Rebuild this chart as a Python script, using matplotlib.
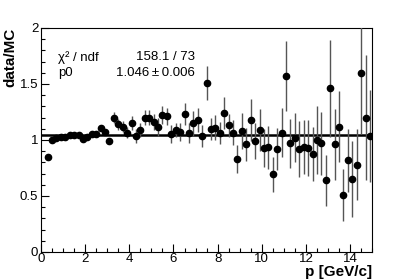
import matplotlib
matplotlib.use('Agg')
import matplotlib.pyplot as plt
from matplotlib.ticker import MultipleLocator, FuncFormatter

plt.rcParams['font.family'] = ['Liberation Sans', 'DejaVu Sans']

# bin centres [GeV/c]
p = [0.3, 0.5, 0.7, 0.9, 1.1, 1.3, 1.5, 1.7, 1.9,
     2.1, 2.3, 2.5, 2.7, 2.9, 3.1,
     3.3, 3.5, 3.7, 3.9, 4.1, 4.3, 4.5, 4.7, 4.9, 5.1, 5.3, 5.5, 5.7, 5.9,
     6.1, 6.3, 6.5, 6.7, 6.9, 7.1, 7.3, 7.5, 7.7, 7.9, 8.1, 8.3, 8.5, 8.7, 8.9,
     9.1, 9.3, 9.5, 9.7, 9.9, 10.1, 10.3, 10.5, 10.7, 10.9, 11.1, 11.3, 11.5, 11.7, 11.9,
     12.1, 12.3, 12.5, 12.7, 12.9, 13.1, 13.3, 13.5, 13.7, 13.9, 14.1, 14.3, 14.5, 14.7, 14.9]

ratio = [0.85, 1.00, 1.02, 1.025, 1.025, 1.045, 1.045, 1.045, 1.01,
         1.03, 1.05, 1.055, 1.11, 1.07, 0.99,
         1.20, 1.14, 1.12, 1.065, 1.15, 1.035, 1.09, 1.20, 1.20, 1.16, 1.12, 1.225, 1.21, 1.05,
         1.09, 1.07, 1.23, 1.065, 1.15, 1.18, 1.035, 1.51, 1.10, 1.11, 1.065, 1.24, 1.13, 1.065, 0.83,
         1.08, 0.96, 1.18, 0.99, 1.09, 0.93, 0.935, 0.695, 0.92, 1.065, 1.57, 0.97, 1.02, 0.92, 0.94,
         0.93, 0.875, 1.00, 0.97, 0.64, 1.46, 0.96, 1.12, 0.51, 0.82, 0.65, 0.78, 1.60, 1.20, 1.035]

err = [0.01, 0.01, 0.01, 0.01, 0.012, 0.012, 0.013, 0.014, 0.015,
       0.02, 0.02, 0.025, 0.025, 0.03, 0.03,
       0.05, 0.05, 0.05, 0.05, 0.06, 0.06, 0.06, 0.07, 0.07, 0.07, 0.08, 0.08, 0.08, 0.08,
       0.06, 0.08, 0.10, 0.09, 0.11, 0.11, 0.10, 0.155, 0.10, 0.11, 0.10, 0.14, 0.10, 0.11, 0.125,
       0.16, 0.15, 0.19, 0.16, 0.19, 0.17, 0.19, 0.155, 0.19, 0.22, 0.31, 0.22, 0.22, 0.25, 0.24,
       0.25, 0.24, 0.30, 0.28, 0.23, 0.43, 0.32, 0.32, 0.23, 0.28, 0.34, 0.32, 0.55, 0.56, 0.41]

# constant fit result
p0 = 1.046
p0_err = 0.006
chi2 = 158.1
ndf = 73

fig = plt.figure(figsize=(4.14, 2.8), dpi=100)
ax = fig.add_axes([0.099, 0.1, 0.8, 0.8])

ax.errorbar(p, ratio, yerr=err, fmt='o', color='black', ms=4.5,
            ecolor='#555555', elinewidth=1, capsize=0, zorder=3)
ax.plot([0, 15], [p0, p0], color='black', lw=1.8, zorder=2)

ax.set_xlim(0, 15)
ax.set_ylim(0, 2)
ax.xaxis.set_major_locator(MultipleLocator(2))
ax.xaxis.set_minor_locator(MultipleLocator(0.5))
ax.yaxis.set_major_locator(MultipleLocator(0.5))
ax.yaxis.set_minor_locator(MultipleLocator(0.1))
fmt = FuncFormatter(lambda v, pos: '%g' % v)
ax.xaxis.set_major_formatter(fmt)
ax.yaxis.set_major_formatter(fmt)
ax.tick_params(which='both', direction='in', top=False, right=False, labelsize=9.5, width=0.8, colors='black')
ax.tick_params(which='major', length=6)
ax.tick_params(which='minor', length=3)
ax.tick_params(axis='x', pad=1)
ax.tick_params(axis='y', pad=2)
for s in ax.spines.values():
    s.set_linewidth(0.8)

ax.set_xlabel('p [GeV/c]', loc='right', fontweight='bold', fontsize=11, labelpad=0)
ax.set_ylabel('data/MC', loc='top', fontweight='bold', fontsize=11)
ax.yaxis.set_label_coords(-0.07, 1.0)

ax.text(0.052, 0.87, 'χ² / ndf', transform=ax.transAxes, fontsize=9.5, va='center')
ax.text(0.466, 0.87, '%.1f / %d' % (chi2, ndf), transform=ax.transAxes, fontsize=9.5, va='center', ha='right')
ax.text(0.052, 0.8, 'p0', transform=ax.transAxes, fontsize=9.5, va='center')
ax.text(0.466, 0.8, '%.3f\u2009±\u2009%.3f' % (p0, p0_err), transform=ax.transAxes, fontsize=9.5, va='center', ha='right')

fig.savefig('out.png', dpi=100)
